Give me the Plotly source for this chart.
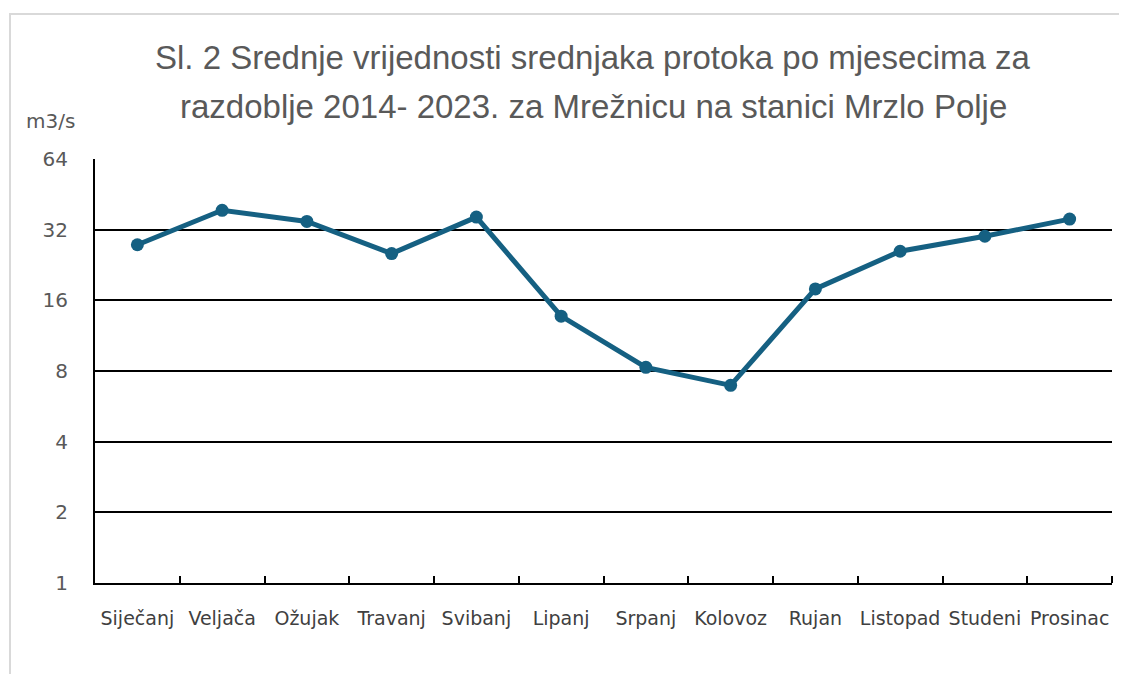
import plotly.graph_objects as go

months = ["Siječanj", "Veljača", "Ožujak", "Travanj", "Svibanj", "Lipanj",
          "Srpanj", "Kolovoz", "Rujan", "Listopad", "Studeni", "Prosinac"]
flow = [27.6, 38.7, 34.7, 25.3, 36.2, 13.7, 8.29, 6.95, 17.9, 25.9, 30.0, 35.5]
y_ticks = [1, 2, 4, 8, 16, 32, 64]
title_line1 = "Sl. 2 Srednje vrijednosti srednjaka protoka po mjesecima za"
title_line2 = "razdoblje 2014- 2023. za Mrežnicu na stanici Mrzlo Polje"
unit = "m3/s"

# page body has an 8px margin; figure coordinates = screen - OFF
OFF = 8
W, H = 1111, 666
PL, PR, PT, PB = 95, 1112, 159, 583  # plot area in screen pixels
L = PL - OFF
R = W - (PR - OFF)
T = PT - OFF
B = H - (PB - OFF)
pw, ph = W - L - R, H - T - B


def px(sx):
    return (sx - OFF - L) / pw


def py(sy):
    return (H - B - (sy - OFF)) / ph


fig = go.Figure()
fig.add_trace(go.Scatter(
    x=months, y=flow, mode="lines+markers",
    line=dict(color="#156082", width=5),
    marker=dict(color="#156082", size=13),
    showlegend=False, hoverinfo="x+y"))

fig.update_layout(
    width=W, height=H,
    margin=dict(l=L, r=R, t=T, b=B, autoexpand=False),
    paper_bgcolor="white", plot_bgcolor="white",
    font=dict(family="DejaVu Sans", color="#595959"),
    xaxis=dict(
        type="category", range=[-0.5, len(months) - 0.5],
        tickson="boundaries", ticks="inside", ticklen=7,
        tickwidth=2, tickcolor="black", showline=True, linecolor="black",
        linewidth=2, showgrid=False, ticklabelstandoff=17, tickangle=0,
        automargin=False,
        tickfont=dict(size=19, color="#404040", family="DejaVu Sans"),
    ),
    yaxis=dict(
        type="log", range=[0, 1.80618], tickvals=y_ticks,
        ticktext=[str(v) for v in y_ticks], showgrid=True, gridcolor="black",
        gridwidth=1.6, showline=True, linecolor="black", linewidth=2,
        ticks="", zeroline=False, ticklabelstandoff=21, automargin=False,
        tickfont=dict(size=20, color="#595959", family="DejaVu Sans"),
    ),
    annotations=[
        dict(text=title_line1, xref="paper", yref="paper", x=px(592.5), y=py(57),
             xanchor="center", yanchor="middle", showarrow=False,
             font=dict(size=33, color="#595959", family="Liberation Sans")),
        dict(text=title_line2, xref="paper", yref="paper", x=px(593), y=py(106),
             xanchor="center", yanchor="middle", showarrow=False,
             font=dict(size=33, color="#595959", family="Liberation Sans")),
        dict(text=unit, xref="paper", yref="paper", x=px(50), y=py(121),
             xanchor="center", yanchor="middle", showarrow=False,
             font=dict(size=20, color="#595959", family="DejaVu Sans")),
    ],
    shapes=[
        dict(type="rect", xref="paper", yref="paper",
             x0=px(10), x1=px(1160), y0=py(720), y1=py(14),
             line=dict(color="#d9d9d9", width=2), layer="below"),
        dict(type="line", xref="paper", yref="paper",
             x0=1, x1=1, y0=0, y1=7 / ph,
             line=dict(color="black", width=2)),
    ],
)

fig.write_html("out.html")
